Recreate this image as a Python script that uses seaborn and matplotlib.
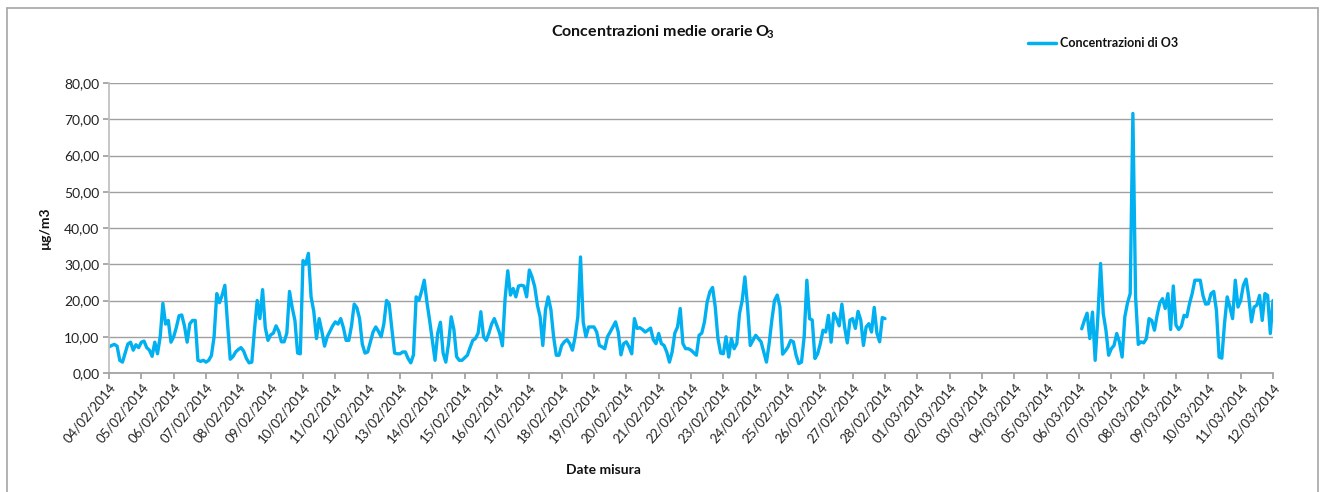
import numpy as np
import pandas as pd
import matplotlib
matplotlib.use("Agg")
import matplotlib.pyplot as plt
import matplotlib.dates as mdates
from matplotlib.ticker import FuncFormatter, MultipleLocator
from matplotlib.lines import Line2D
import seaborn as sns

# Concentrazioni O3 (µg/m3), un valore ogni 2 ore
feb_04 = [7.2, 7.6, 7.9, 7.4, 3.5, 3.0, 5.5, 8.0, 8.5, 6.3, 7.8, 7.0]
feb_05 = [8.5, 8.8, 7.0, 6.3, 4.6, 8.5, 5.3, 10.0, 19.2, 13.5, 14.5, 8.5]
feb_06 = [10.0, 12.6, 15.8, 16.0, 13.0, 8.5, 13.6, 14.5, 14.5, 3.5, 3.2, 3.5]
feb_07 = [3.0, 3.5, 4.8, 10.0, 21.9, 19.4, 21.5, 24.2, 13.5, 3.8, 4.5, 5.8]
feb_08 = [6.5, 7.0, 6.0, 4.0, 2.8, 3.0, 12.0, 20.0, 15.0, 23.0, 12.5, 9.0]
feb_09 = [10.5, 11.0, 13.0, 11.5, 8.6, 8.6, 11.0, 22.5, 18.0, 14.5, 5.5, 5.3]
feb_10 = [31.0, 30.0, 33.0, 21.0, 17.0, 9.5, 15.0, 11.5, 7.4, 10.0, 11.5, 13.0]
feb_11 = [14.1, 13.5, 15.0, 12.5, 9.0, 9.0, 13.0, 19.0, 18.0, 15.0, 8.0, 5.5]
feb_12 = [5.8, 8.5, 11.3, 12.7, 11.5, 10.0, 13.5, 20.0, 19.0, 12.0, 5.5, 5.3]
feb_13 = [5.3, 5.8, 5.8, 4.0, 2.8, 5.0, 21.0, 20.0, 22.5, 25.6, 19.5, 14.5]
feb_14 = [9.0, 3.5, 11.0, 14.0, 5.5, 3.0, 8.0, 15.5, 12.0, 4.5, 3.5, 3.5]
feb_15 = [4.2, 4.9, 7.0, 9.0, 9.5, 11.0, 16.9, 10.0, 9.0, 11.0, 13.5, 15.0]
feb_16 = [13.0, 10.9, 7.5, 20.5, 28.2, 21.5, 23.3, 21.0, 24.0, 24.2, 24.0, 21.0]
feb_17 = [28.4, 26.5, 23.8, 18.7, 15.5, 7.6, 17.5, 21.0, 17.5, 10.0, 4.9, 4.9]
feb_18 = [7.6, 8.6, 9.2, 8.1, 6.3, 10.0, 15.5, 32.0, 14.0, 10.0, 12.7, 12.7]
feb_19 = [12.7, 11.3, 7.6, 7.2, 6.7, 10.0, 11.3, 12.7, 14.1, 11.3, 5.0, 8.1]
feb_20 = [8.6, 7.2, 5.3, 15.0, 12.3, 12.5, 12.0, 11.3, 11.8, 12.4, 9.2, 8.1]
feb_21 = [10.9, 8.1, 7.6, 5.8, 3.0, 5.8, 11.0, 12.7, 17.8, 8.1, 6.7, 6.7]
feb_22 = [6.3, 5.6, 4.9, 10.4, 11.0, 14.1, 19.6, 22.4, 23.6, 18.2, 9.5, 5.5]
feb_23 = [5.3, 10.0, 4.4, 9.5, 6.7, 8.1, 16.4, 20.0, 26.5, 18.2, 7.6, 9.0]
feb_24 = [10.4, 9.5, 8.6, 5.8, 3.0, 8.1, 14.6, 20.0, 21.5, 18.2, 5.2, 6.1]
feb_25 = [7.2, 9.0, 8.6, 4.9, 2.6, 3.0, 10.0, 25.6, 15.0, 14.6, 4.0, 5.3]
feb_26 = [8.1, 11.8, 11.3, 15.9, 8.5, 16.5, 15.0, 13.0, 19.0, 12.7, 8.3, 14.6]
feb_27 = [15.0, 12.3, 17.0, 14.6, 7.6, 12.7, 13.6, 11.3, 18.1, 11.0, 8.6, 15.3]
feb_28 = [15.0]

# marzo: la serie riparte il 06/03 alle 02:00
mar_06 = [12.2, 14.5, 16.5, 9.5, 16.8, 3.5, 15.5, 30.2, 16.4, 11.8, 4.9]
mar_07 = [6.7, 7.6, 10.9, 8.6, 4.4, 15.5, 19.3, 21.9, 71.6, 21.0, 7.9, 8.6]
mar_08 = [8.3, 9.5, 15.0, 14.5, 11.8, 16.0, 19.4, 20.5, 17.8, 21.9, 12.0, 24.0]
mar_09 = [13.2, 12.0, 12.9, 15.9, 15.5, 19.1, 21.9, 25.6, 25.6, 25.6, 21.4, 19.0]
mar_10 = [19.1, 21.9, 22.5, 17.3, 4.4, 4.1, 13.6, 21.0, 18.2, 15.0, 25.6, 18.2]
mar_11 = [20.0, 24.2, 25.9, 21.0, 14.1, 18.2, 18.7, 21.4, 14.5, 21.9, 21.4, 10.9]
mar_12 = [20.0]

feb_vals = (feb_04 + feb_05 + feb_06 + feb_07 + feb_08 + feb_09 + feb_10 + feb_11
            + feb_12 + feb_13 + feb_14 + feb_15 + feb_16 + feb_17 + feb_18 + feb_19
            + feb_20 + feb_21 + feb_22 + feb_23 + feb_24 + feb_25 + feb_26 + feb_27 + feb_28)
mar_vals = mar_06 + mar_07 + mar_08 + mar_09 + mar_10 + mar_11 + mar_12

feb = pd.DataFrame({"data": pd.date_range("2014-02-04 00:00", periods=len(feb_vals), freq="2h"),
                    "o3": feb_vals})
mar = pd.DataFrame({"data": pd.date_range("2014-03-06 02:00", periods=len(mar_vals), freq="2h"),
                    "o3": mar_vals})

sns.set_theme(style="white")
plt.rcParams["font.family"] = ["Lato", "DejaVu Sans"]
plt.rcParams["mathtext.fontset"] = "custom"
plt.rcParams["mathtext.rm"] = "Lato:bold"
plt.rcParams["mathtext.it"] = "Lato:bold"
plt.rcParams["mathtext.bf"] = "Lato:bold"
plt.rcParams["mathtext.default"] = "rm"

blu = "#00B0F0"
fig = plt.figure(figsize=(13.25, 4.92), dpi=100)
ax = fig.add_axes([109 / 1325, 1 - 373 / 492, (1273 - 109) / 1325, (373 - 83) / 492])

sns.lineplot(data=feb, x="data", y="o3", ax=ax, color=blu, linewidth=2.4)
sns.lineplot(data=mar, x="data", y="o3", ax=ax, color=blu, linewidth=2.4)

ax.set_xlim(pd.Timestamp("2014-02-04"), pd.Timestamp("2014-03-12"))
ax.set_ylim(0, 80)
ax.yaxis.set_major_locator(MultipleLocator(10))
ax.yaxis.set_major_formatter(FuncFormatter(lambda v, p: f"{v:.2f}".replace(".", ",")))
ax.xaxis.set_major_locator(mdates.DayLocator())
ax.xaxis.set_major_formatter(mdates.DateFormatter("%d/%m/%Y"))
ax.grid(axis="y", color="#a0a0a0", linewidth=1)
ax.grid(axis="x", visible=False)

for s in ["top", "right"]:
    ax.spines[s].set_visible(False)
ax.spines["left"].set_color("#bfbfbf")
ax.spines["bottom"].set_color("#a0a0a0")
ax.tick_params(axis="y", direction="out", length=4, color="#a0a0a0", labelsize=10, pad=3,
               left=True, labelcolor="#222222")
ax.tick_params(axis="x", direction="out", length=4, color="#a0a0a0", labelsize=9.5, pad=2,
               bottom=True, labelcolor="#222222")
plt.setp(ax.get_xticklabels(), rotation=50, ha="right", rotation_mode="anchor")

ax.set_xlabel("")
ax.set_ylabel("")
fig.text(45 / 1325, 1 - 228 / 492, "µg/m3", rotation=90, ha="center", va="center",
         fontsize=10, fontweight="bold", color="#111111")
fig.text(603 / 1325, 1 - 470 / 492, "Date misura", ha="center", va="center",
         fontsize=10, fontweight="bold", color="#111111")
fig.text(0.5, 1 - 32 / 492, r"Concentrazioni medie orarie O$\!_{3}$", ha="center", va="center",
         fontsize=11.5, fontweight="bold", color="#111111")

handle = Line2D([], [], color=blu, linewidth=2.5)
fig.legend([handle], ["Concentrazioni di O3"], loc="center left",
           bbox_to_anchor=(1028 / 1325, 1 - 43 / 492), frameon=False, handlelength=2.2,
           handletextpad=0.4, borderpad=0, borderaxespad=0,
           prop={"size": 9, "weight": "bold"}, labelcolor="#111111")

# cornice del grafico
bordo = "#a6a6a6"
fig.add_artist(Line2D([7 / 1325, 7 / 1325], [0, 1 - 8 / 492], color=bordo, lw=1.2))
fig.add_artist(Line2D([7 / 1325, 1318 / 1325], [1 - 8 / 492, 1 - 8 / 492], color=bordo, lw=1.2))
fig.add_artist(Line2D([1318 / 1325, 1318 / 1325], [0, 1 - 8 / 492], color=bordo, lw=1.2))

fig.savefig("out.png", dpi=100)
